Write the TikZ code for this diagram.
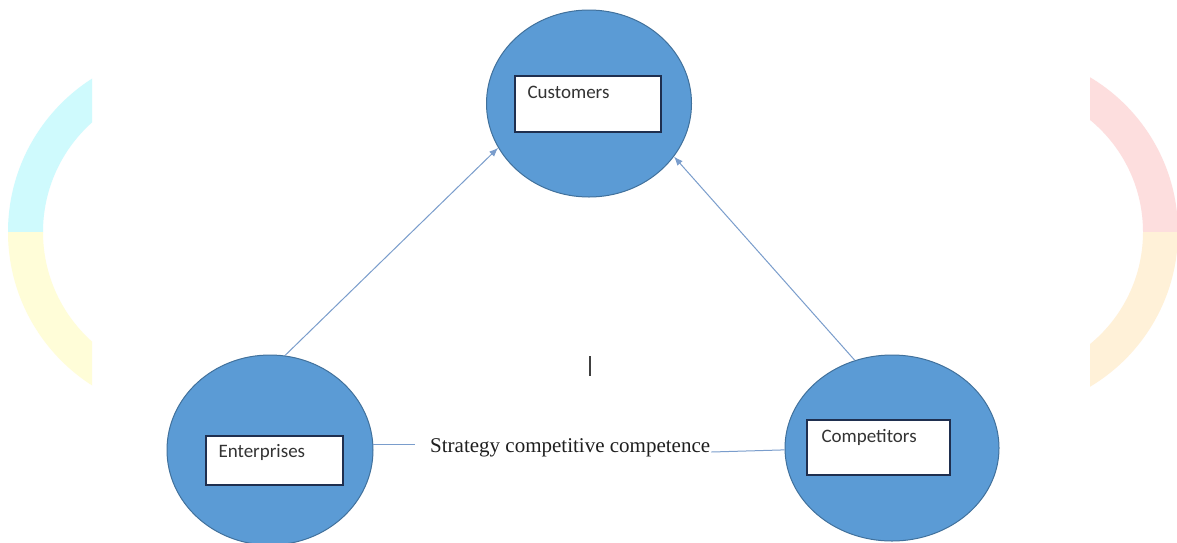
\documentclass[tikz,border=0pt]{standalone}
\usepackage{fontspec}
\setmainfont{Liberation Serif}
\newfontfamily\carlito{Carlito}
\usetikzlibrary{shapes.geometric,arrows.meta}
\definecolor{circfill}{HTML}{5B9BD5}
\definecolor{circline}{HTML}{41719C}
\definecolor{boxline}{HTML}{1F2F4F}
\definecolor{connclr}{HTML}{7A9DCC}
\definecolor{wmcyan}{HTML}{CFFAFD}
\definecolor{wmyellow}{HTML}{FFFDD8}
\definecolor{wmpink}{HTML}{FDDEDE}
\definecolor{wmorange}{HTML}{FFF1D8}
\begin{document}
\begin{tikzpicture}[x=1pt,y=-1pt,
  party/.style={ellipse, draw=circline, line width=1pt, fill=circfill, inner sep=0pt},
  namebox/.style={rectangle, draw=boxline, line width=1.3pt, fill=white, inner sep=0pt},
  lbl/.style={font=\carlito\fontsize{19}{21}\selectfont, text=black!80, inner sep=0pt, anchor=base west},
  conn/.style={draw=connclr, line width=1pt},
  arr/.style={conn, -{Latex[length=9pt,width=7pt]}}]
\useasboundingbox (0,0) rectangle (1177,542);
\fill[white] (0,0) rectangle (1177,542);
% faint background watermark rings
\begin{scope}
  \clip (0,0) rectangle (92,542);
  \fill[wmcyan] ([shift={(180:182)}]190,232) arc[start angle=180,end angle=270,radius=182]
     -- ([shift={(270:147)}]190,232) arc[start angle=270,end angle=180,radius=147] -- cycle;
  \fill[wmyellow] ([shift={(90:182)}]190,232) arc[start angle=90,end angle=180,radius=182]
     -- ([shift={(180:147)}]190,232) arc[start angle=180,end angle=90,radius=147] -- cycle;
\end{scope}
\begin{scope}
  \clip (1090,0) rectangle (1177,542);
  \fill[wmpink] ([shift={(270:180)}]998,232) arc[start angle=270,end angle=360,radius=180]
     -- ([shift={(0:145)}]998,232) arc[start angle=360,end angle=270,radius=145] -- cycle;
  \fill[wmorange] ([shift={(0:180)}]998,232) arc[start angle=0,end angle=90,radius=180]
     -- ([shift={(90:145)}]998,232) arc[start angle=90,end angle=0,radius=145] -- cycle;
\end{scope}
% parties
\node[party, minimum width=205pt, minimum height=187pt] (cust) at (589,103.5) {};
\node[party, minimum width=206pt, minimum height=190pt] (ent) at (270,450) {};
\node[party, minimum width=214pt, minimum height=186pt] (comp) at (892,448) {};
% name boxes
\node[namebox, minimum width=146pt, minimum height=56pt] (custbox) at (588,104) {};
\node[namebox, minimum width=137pt, minimum height=49pt] (entbox) at (274.5,460.5) {};
\node[namebox, minimum width=143pt, minimum height=55pt] (compbox) at (878.5,447.5) {};
\node[lbl] (custlbl) at ([xshift=13pt,yshift=-23pt]custbox.north west) {Customers};
\node[lbl] (entlbl) at ([xshift=13pt,yshift=-22pt]entbox.north west) {Enterprises};
\node[lbl] (complbl) at ([xshift=15pt,yshift=-23pt]compbox.north west) {Competitors};
% strategy text
\node[font=\fontsize{21}{24}\selectfont, text=black!88, inner sep=0pt, anchor=base west] (strat) at (430,452) {Strategy competitive competence};
\coordinate (stratin) at ([xshift=-15pt]strat.west);
% connectors
\draw[arr] (ent.81) -- (cust.206);
\draw[arr] (comp.113) -- (cust.328);
\draw[conn] (ent.3) -- (ent.3 -| stratin);
\draw[conn] ([xshift=1pt]strat.base east) -- (comp.181);
% text cursor mark
\draw[black!75, line width=1.2pt] (590,356) -- (590,376);
\end{tikzpicture}
\end{document}
